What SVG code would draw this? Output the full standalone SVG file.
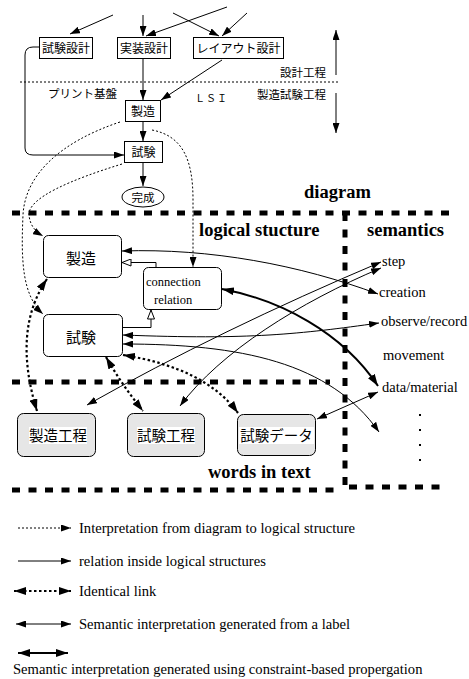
<svg xmlns="http://www.w3.org/2000/svg" width="469" height="679" viewBox="0 0 469 679">
<defs>
<style>
.bx{fill:#fff;stroke:#000;stroke-width:1}
.rb{fill:#fff;stroke:#000;stroke-width:1}
.gb{fill:#e6e6e6;stroke:#000;stroke-width:1}
.jp{font-family:"Noto Sans CJK JP","Noto Sans",sans-serif;fill:#000}
.sr{font-family:"Liberation Serif","DejaVu Serif",serif;fill:#000}
.bd{font-family:"Liberation Serif","DejaVu Serif",serif;font-weight:bold;font-size:18.5px;fill:#000}
.ln{fill:none;stroke:#000;stroke-width:1}
.dt{fill:none;stroke:#000;stroke-width:1;stroke-dasharray:2 2}
.id{fill:none;stroke:#000;stroke-width:2.2;stroke-dasharray:2.5 2.5}
.tk{fill:none;stroke:#000;stroke-width:2}
.bar{fill:none;stroke:#000;stroke-width:5;stroke-dasharray:8 8.5}
</style>
<marker id="ah" markerUnits="userSpaceOnUse" markerWidth="10" markerHeight="7" refX="10" refY="3.5" orient="auto-start-reverse"><path d="M0,0 L10,3.5 L0,7 z" fill="#000"/></marker>
<marker id="ahB" markerUnits="userSpaceOnUse" markerWidth="12" markerHeight="8" refX="12" refY="4" orient="auto-start-reverse"><path d="M0,0 L12,4 L0,8 z" fill="#000"/></marker>
<marker id="hol" markerUnits="userSpaceOnUse" markerWidth="10" markerHeight="8" refX="9.5" refY="4" orient="auto"><path d="M0.5,0.5 L9.5,4 L0.5,7.5 z" fill="#fff" stroke="#000" stroke-width="1"/></marker>
</defs>
<rect width="469" height="679" fill="#fff"/>

<!-- top section boxes -->
<g id="n-shiken-sekkei"><rect class="bx" x="39.5" y="37.5" width="53" height="21"/><text class="jp" x="66" y="52.5" font-size="12" text-anchor="middle">試験設計</text></g>
<g id="n-jisso-sekkei"><rect class="bx" x="117.5" y="37.5" width="53" height="21"/><text class="jp" x="144" y="52.5" font-size="12" text-anchor="middle">実装設計</text></g>
<g id="n-layout-sekkei"><rect class="bx" x="193.5" y="37.5" width="90" height="21"/><text class="jp" x="238.5" y="52.5" font-size="12" text-anchor="middle">レイアウト設計</text></g>
<g id="n-seizo-top"><rect class="bx" x="125.5" y="100.5" width="35" height="21"/><text class="jp" x="143" y="115.5" font-size="12" text-anchor="middle">製造</text></g>
<g id="n-shiken-top"><rect class="bx" x="124.5" y="141.5" width="38" height="21"/><text class="jp" x="143.5" y="156.5" font-size="12" text-anchor="middle">試験</text></g>
<g id="n-kansei"><ellipse class="bx" cx="143" cy="197" rx="21" ry="10"/><text class="jp" x="143" y="201.5" font-size="11.5" text-anchor="middle">完成</text></g>

<g id="labels-top">
<line class="dt" x1="20" y1="82" x2="340" y2="82"/>
<text class="jp" x="326" y="77" font-size="11.5" text-anchor="end">設計工程</text>
<text class="jp" x="326" y="99" font-size="11.5" text-anchor="end">製造試験工程</text>
<text class="jp" x="48" y="98" font-size="11.5">プリント基盤</text>
<text class="jp" x="195" y="102" font-size="10" letter-spacing="1">ＬＳＩ</text>
</g>

<!-- logical structure nodes -->
<g id="n-seizo-logic"><rect class="rb" x="43.5" y="235.5" width="78" height="42" rx="5"/><text class="jp" x="81" y="264" font-size="15" text-anchor="middle">製造</text></g>
<g id="n-shiken-logic"><rect class="rb" x="43.5" y="314.5" width="79" height="42" rx="5"/><text class="jp" x="81" y="343" font-size="15" text-anchor="middle">試験</text></g>
<g id="n-connection"><rect class="rb" x="143.5" y="267.5" width="78" height="42" rx="5"/><text class="sr" x="146" y="286" font-size="12.5">connection</text><text class="sr" x="154" y="304" font-size="12.5">relation</text></g>

<!-- words in text nodes -->
<g id="n-seizo-kotei"><rect class="gb" x="17.5" y="413.5" width="78" height="43" rx="6"/><rect x="29" y="427" width="58" height="17" fill="#fff"/><text class="jp" x="58" y="441" font-size="14.5" text-anchor="middle">製造工程</text></g>
<g id="n-shiken-kotei"><rect class="gb" x="127.5" y="413.5" width="77" height="43" rx="6"/><rect x="137" y="427" width="58" height="17" fill="#fff"/><text class="jp" x="166" y="441" font-size="14.5" text-anchor="middle">試験工程</text></g>
<g id="n-shiken-data"><rect class="gb" x="237.5" y="414.5" width="78" height="41" rx="6"/><rect x="239" y="427" width="75" height="17" fill="#fff"/><text class="jp" x="276.5" y="441" font-size="14.5" text-anchor="middle">試験データ</text></g>

<!-- semantics labels -->
<g id="semantics">
<text class="sr" x="382" y="266" font-size="14.5">step</text>
<text class="sr" x="379" y="297" font-size="14.5">creation</text>
<text class="sr" x="381" y="326" font-size="14.5">observe/record</text>
<text class="sr" x="383" y="360" font-size="14.5">movement</text>
<text class="sr" x="382" y="392" font-size="14.5">data/material</text>
<g fill="#000"><rect x="419" y="414" width="2" height="2"/><rect x="419" y="429" width="2" height="2"/><rect x="419" y="444" width="2" height="2"/><rect x="419" y="459" width="2" height="2"/></g>
</g>

<!-- region titles and borders -->
<g id="regions">
<line class="bar" x1="12" y1="213" x2="456" y2="213"/>
<line class="bar" x1="345" y1="213" x2="345" y2="490"/>
<line class="bar" x1="12" y1="382" x2="330" y2="382"/>
<line class="bar" x1="12" y1="490" x2="342" y2="490"/>
<line class="bar" x1="349" y1="487" x2="442" y2="487"/>
<text class="bd" x="304" y="198">diagram</text>
<text class="bd" x="199" y="236">logical stucture</text>
<text class="bd" x="367" y="236">semantics</text>
<text class="bd" x="208" y="478">words in text</text>
</g>

<!-- connectors -->
<g id="connectors">
<line class="ln" x1="113" y1="15" x2="70" y2="34" marker-end="url(#ah)"/>
<line class="ln" x1="143" y1="15" x2="143" y2="36" marker-end="url(#ah)"/>
<line class="ln" x1="227" y1="7" x2="146" y2="36" marker-end="url(#ah)"/>
<line class="ln" x1="173" y1="13" x2="219" y2="36" marker-end="url(#ah)"/>
<line class="ln" x1="247" y1="13" x2="222" y2="36" marker-end="url(#ah)"/>
<line class="ln" x1="143" y1="59" x2="143" y2="100" marker-end="url(#ah)"/>
<line class="ln" x1="222" y1="60" x2="161" y2="100" marker-end="url(#ah)"/>
<line class="ln" x1="143" y1="122" x2="143" y2="141" marker-end="url(#ah)"/>
<line class="ln" x1="143" y1="163" x2="143" y2="186" marker-end="url(#ah)"/>
<path class="ln" d="M39,47 H33 Q25,47 25,55 V148 Q25,155 33,155 H124" marker-end="url(#ah)"/>
<line class="ln" x1="336" y1="75" x2="336" y2="30" marker-end="url(#ah)"/>
<line class="ln" x1="336" y1="93" x2="336" y2="133" marker-end="url(#ah)"/>

<!-- diagram to logical (dotted) -->
<path class="dt" d="M120,122 C60,142 25,175 23,215 C21,260 22,295 43,314" marker-end="url(#ah)"/>
<path class="dt" d="M122,164 C70,180 28,198 29,215 C30,226 36,232 43,236" marker-end="url(#ah)"/>
<path class="dt" d="M152,130 C183,136 193,160 193,200 L193,267" marker-end="url(#ah)"/>

<!-- inside logical structures -->
<path class="ln" d="M156,267 V262.5 H122" marker-end="url(#hol)"/>
<path class="ln" d="M123,327.5 H151 V310" marker-end="url(#hol)"/>

<!-- semantic from label (thin double) -->
<path class="ln" d="M122,251 C210,248 300,265 378,294" marker-start="url(#ah)" marker-end="url(#ah)"/>
<path class="ln" d="M123,335 C250,340 300,334 379,323" marker-start="url(#ah)" marker-end="url(#ah)"/>
<path class="ln" d="M123,344 C240,344 330,362 379,432" marker-start="url(#ah)" marker-end="url(#ah)"/>
<path class="ln" d="M87,405 Q220,330 381,262" marker-start="url(#ah)" marker-end="url(#ah)"/>
<path class="ln" d="M180,406 C220,352 300,302 381,268" marker-start="url(#ah)" marker-end="url(#ah)"/>
<line class="ln" x1="317" y1="419" x2="378" y2="392" marker-start="url(#ah)" marker-end="url(#ah)"/>

<!-- constraint-based (thick double) -->
<path class="tk" d="M222,289 C280,300 342,332 378,386" marker-start="url(#ahB)" marker-end="url(#ahB)"/>

<!-- identical links -->
<path class="id" d="M47,279 Q12,330 37,411" marker-start="url(#ahB)" marker-end="url(#ahB)"/>
<path class="id" d="M106,357 Q122,385 143,411" marker-start="url(#ahB)" marker-end="url(#ahB)"/>
<path class="id" d="M123,355 Q205,368 238,413" marker-start="url(#ahB)" marker-end="url(#ahB)"/>
</g>

<!-- legend -->
<g id="legend">
<line class="dt" x1="18" y1="528" x2="71" y2="528" marker-end="url(#ah)"/>
<text class="sr" x="79" y="532.5" font-size="14.6">Interpretation from diagram to logical structure</text>
<line class="ln" x1="18" y1="561" x2="71" y2="561" marker-end="url(#ah)"/>
<text class="sr" x="79" y="565.5" font-size="14.6">relation inside logical structures</text>
<line class="id" x1="14" y1="591" x2="71" y2="591" marker-start="url(#ahB)" marker-end="url(#ahB)"/>
<text class="sr" x="79" y="595.5" font-size="14.6">Identical link</text>
<line class="ln" x1="16" y1="624" x2="71" y2="624" marker-start="url(#ah)" marker-end="url(#ah)"/>
<text class="sr" x="79" y="628.5" font-size="14.6">Semantic interpretation generated from a label</text>
<line class="tk" x1="18" y1="653" x2="68" y2="653" marker-start="url(#ahB)" marker-end="url(#ahB)"/>
<text class="sr" x="13" y="673.5" font-size="14.6">Semantic interpretation generated using constraint-based propergation</text>
</g>
</svg>
